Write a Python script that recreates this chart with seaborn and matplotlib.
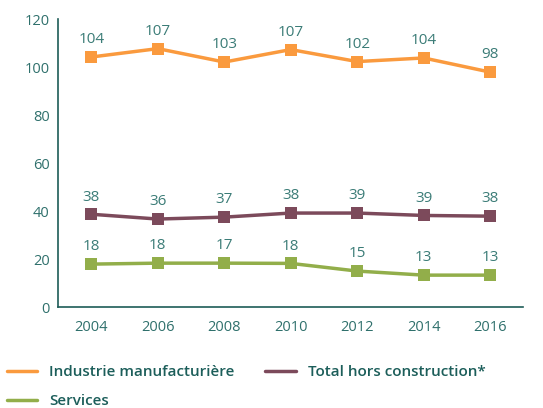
import matplotlib
matplotlib.use("Agg")
import matplotlib.pyplot as plt
from matplotlib.lines import Line2D
from matplotlib.ticker import FixedLocator
import seaborn as sns
import pandas as pd

years = ["2004", "2006", "2008", "2010", "2012", "2014", "2016"]
industrie = [104.3, 107.8, 102.2, 107.4, 102.4, 103.9, 98.0]
total = [38.7, 36.7, 37.5, 39.2, 39.2, 38.2, 37.9]
services = [17.9, 18.3, 18.3, 18.2, 15.0, 13.3, 13.3]
industrie_lbl = [104, 107, 103, 107, 102, 104, 98]
total_lbl = [38, 36, 37, 38, 39, 39, 38]
services_lbl = [18, 18, 17, 18, 15, 13, 13]
series = ["Industrie manufacturière", "Total hors construction*", "Services"]

colors = {"Industrie manufacturière": "#FA9A3E",
          "Total hors construction*": "#7C4A5B",
          "Services": "#92AE4A"}
teal = "#2F706C"
axis_col = "#1E5C57"

sns.set_style("white")
plt.rcParams["font.family"] = ["Open Sans", "DejaVu Sans"]

rows = []
for name, vals, lbls in zip(series, [industrie, total, services],
                            [industrie_lbl, total_lbl, services_lbl]):
    for i, (v, l) in enumerate(zip(vals, lbls)):
        rows.append({"x": i, "year": years[i], "value": v, "label": l, "serie": name})
df = pd.DataFrame(rows)

fig = plt.figure(figsize=(5.43, 4.08), dpi=100)
ax = fig.add_axes([0.107, 0.2475, 0.857, 0.705])

sns.lineplot(data=df, x="x", y="value", hue="serie", palette=colors,
             marker="s", markersize=9, markeredgewidth=0, linewidth=2.5,
             legend=False, ax=ax)

for _, r in df.iterrows():
    ax.annotate(str(r["label"]), (r["x"], r["value"]), xytext=(0, 7),
                textcoords="offset points", ha="center", va="bottom",
                fontsize=11, color="#3B7C77")

ax.set_xlim(-0.5, 6.5)
ax.set_ylim(0, 120)
ax.set_yticks(range(0, 121, 20))
ax.xaxis.set_major_locator(FixedLocator([0.5 + i for i in range(6)]))
ax.xaxis.set_minor_locator(FixedLocator(range(len(years))))
ax.set_xticklabels([], minor=False)
ax.set_xticklabels(years, minor=True)
ax.tick_params(axis="x", which="major", direction="in", length=7, width=1, color=axis_col)
ax.tick_params(axis="x", which="minor", length=0, pad=9, labelsize=10.5, labelcolor=teal)
ax.tick_params(axis="y", direction="in", length=9, width=1, color=axis_col,
               pad=6, labelsize=10.5, labelcolor=teal)
ax.set_xlabel("")
ax.set_ylabel("")
for s in ["top", "right"]:
    ax.spines[s].set_visible(False)
for s in ["left", "bottom"]:
    ax.spines[s].set_color(axis_col)
    ax.spines[s].set_linewidth(1.2)

# column-wise fill: put Services second so it lands under Industrie
order = ["Industrie manufacturière", "Services", "Total hors construction*"]
handles = [Line2D([], [], color=colors[s], linewidth=2.5) for s in order]
leg = fig.legend(handles, order, loc="upper left", bbox_to_anchor=(0.012, 0.105),
                 ncol=2, frameon=False, fontsize=11, handlelength=2.0,
                 columnspacing=2.0, handletextpad=0.8, labelspacing=1.0,
                 borderaxespad=0, borderpad=0)
for t in leg.get_texts():
    t.set_color("#1C5E5A")
    t.set_fontweight("semibold")

fig.savefig("out.png", dpi=100)
